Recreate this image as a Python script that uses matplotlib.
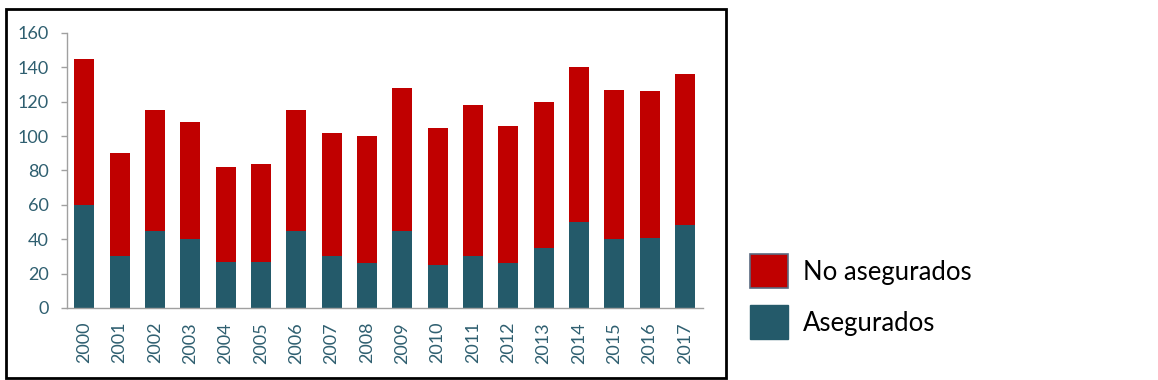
import matplotlib
matplotlib.use("Agg")
import matplotlib.pyplot as plt
from matplotlib.patches import Rectangle, Patch
import numpy as np

plt.rcParams['font.family'] = ['Lato', 'DejaVu Sans']

years = [str(y) for y in range(2000, 2018)]
totales = [145, 90, 115, 108, 82, 84, 115, 102, 100, 128, 105, 118, 106, 120, 140, 127, 126, 136]
asegurados = [60, 30, 45, 40, 27, 27, 45, 30, 26, 45, 25, 30, 26, 35, 50, 40, 41, 48]
no_asegurados = [t - a for t, a in zip(totales, asegurados)]

RED = '#C00000'
TEAL = '#245A6A'
LABEL = '#2F5F70'
AXIS = '#A0A0A0'

fig = plt.figure(figsize=(11.58, 3.8), dpi=100)
ax = fig.add_axes([0.0576, 0.1895, 0.5492, 0.7237])

x = np.arange(len(years))
w = 0.57
ax.bar(x, asegurados, width=w, color=TEAL, label='Asegurados', zorder=2)
ax.bar(x, no_asegurados, width=w, bottom=asegurados, color=RED, label='No asegurados', zorder=2)

ax.set_xlim(-0.5, len(years) - 0.5)
ax.set_ylim(0, 160)
ax.set_yticks(range(0, 161, 20))
ax.set_xticks(x)
ax.set_xticklabels(years, rotation=90)

for s in ['top', 'right']:
    ax.spines[s].set_visible(False)
for s in ['left', 'bottom']:
    ax.spines[s].set_color(AXIS)
    ax.spines[s].set_linewidth(1.0)

ax.tick_params(axis='y', colors=AXIS, labelcolor=LABEL, labelsize=13, length=4.5, width=1, pad=8.5)
ax.tick_params(axis='x', length=0, labelcolor=LABEL, labelsize=13, pad=10)

# outer frame
fig.patches.append(Rectangle((6 / 1158, 2 / 380), 720 / 1158, 369 / 380,
                             transform=fig.transFigure, fill=False,
                             edgecolor='black', linewidth=2, zorder=10))

handles = [Patch(facecolor=RED, edgecolor='#5A6A80', linewidth=1.2, label='No asegurados'),
           Patch(facecolor=TEAL, edgecolor=TEAL, label='Asegurados')]
fig.legend(handles=handles, loc='upper left', bbox_to_anchor=(740 / 1158, 1 - 244 / 380),
           frameon=False, fontsize=18.5, handlelength=1.48, handleheight=1.66,
           labelspacing=0.66, handletextpad=0.58, borderaxespad=0)

fig.savefig('out.png', dpi=100)
